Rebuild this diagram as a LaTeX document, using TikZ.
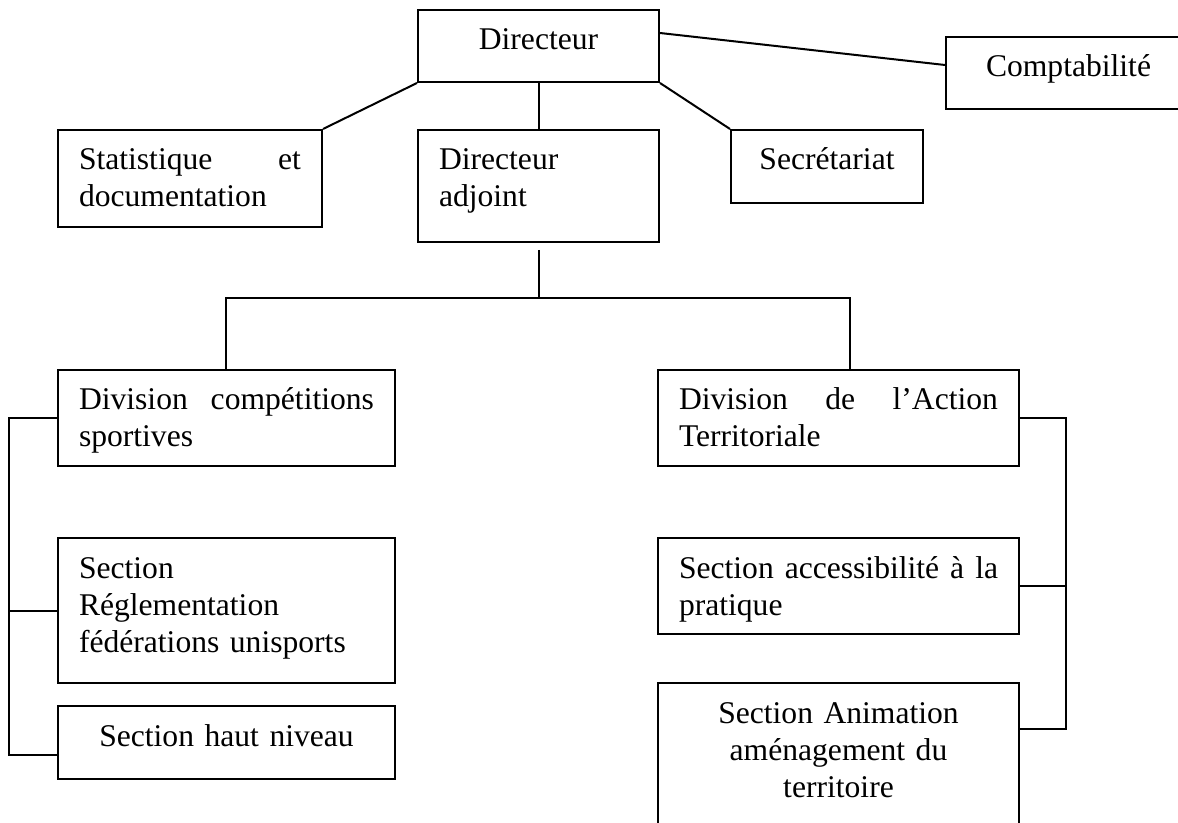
\documentclass[tikz,border=0pt]{standalone}
\usepackage{fontspec}
\setmainfont{Liberation Serif}
\usetikzlibrary{calc}
\begin{document}
\begin{tikzpicture}[x=0.5pt,y=-0.5pt,
  line width=1pt,
  box/.style={draw, line width=1pt, anchor=north west, inner xsep=10.5pt, inner ysep=0pt,
    text height=20pt, font=\fontsize{15.8}{18.5}\selectfont},
  wide/.style={text width=147.5pt},
  wider/.style={text width=159.5pt}]
\useasboundingbox (0,0) rectangle (1178,823);
% top level
\node[box, text width=99.5pt, text depth=16pt, align=center] (dir) at (417,9) {Directeur};
\node[box, text width=101.5pt, text depth=16pt, align=center] (compta) at (945,36) {Comptabilité};
\node[box, text width=111pt, text depth=28.5pt, align=left] (stat) at (57,129) {Statistique\hfill et\\documentation};
\node[box, text width=99.5pt, text depth=36pt, align=left] (adj) at (417,129) {Directeur\\adjoint};
\node[box, text width=75pt, text depth=16.5pt, align=center] (sec) at (730,129) {Secrétariat};
% divisions
\node[box, wide, text depth=28pt, align=left] (divc) at (57,369) {Division\hfill compétitions\\sportives};
\node[box, wider, text depth=28pt, align=left] (diva) at (657,369) {Division\hfill de\hfill l’Action\\Territoriale};
% sections
\node[box, wide, text depth=52.5pt, align=left] (regl) at (57,537) {Section\\Réglementation\\fédérations unisports};
\node[box, wide, text depth=16.5pt, align=center] (haut) at (57,705) {Section haut niveau};
\node[box, wider, text depth=28pt, align=left] (acc) at (657,537) {Section\hfill accessibilité\hfill à\hfill la\\pratique};
\node[box, wider, text depth=64pt, align=center] (anim) at (657,682) {Section Animation\\aménagement du\\territoire};
% connectors from Directeur
\draw (dir.south west) -- (stat.north east);
\draw ($(dir.north east)+(0,24)$) -- ($(compta.north west)+(0,29)$);
\draw (dir.south east) -- (sec.north west);
\draw (dir.south) -- (adj.north);
% bar to divisions
\coordinate (barL) at (226,298);
\coordinate (barR) at (850,298);
\draw ($(adj.south)+(0,7)$) -- (adj.south |- barL);
\draw (divc.north -| barL) -- (barL) -- (barR) -- (diva.north -| barR);
% left bracket
\coordinate (lb) at (9,0);
\coordinate (hstub) at ($(haut.south west)+(0,-25)$);
\draw (divc.west) -- (divc.west -| lb) -- (hstub -| lb) -- (hstub);
\draw (regl.west) -- (regl.west -| lb);
% right bracket
\coordinate (rb) at (1066,0);
\coordinate (astub) at ($(anim.north east)+(0,47)$);
\draw (diva.east) -- (diva.east -| rb) -- (astub -| rb) -- (astub);
\draw (acc.east) -- (acc.east -| rb);
\end{tikzpicture}
\end{document}
